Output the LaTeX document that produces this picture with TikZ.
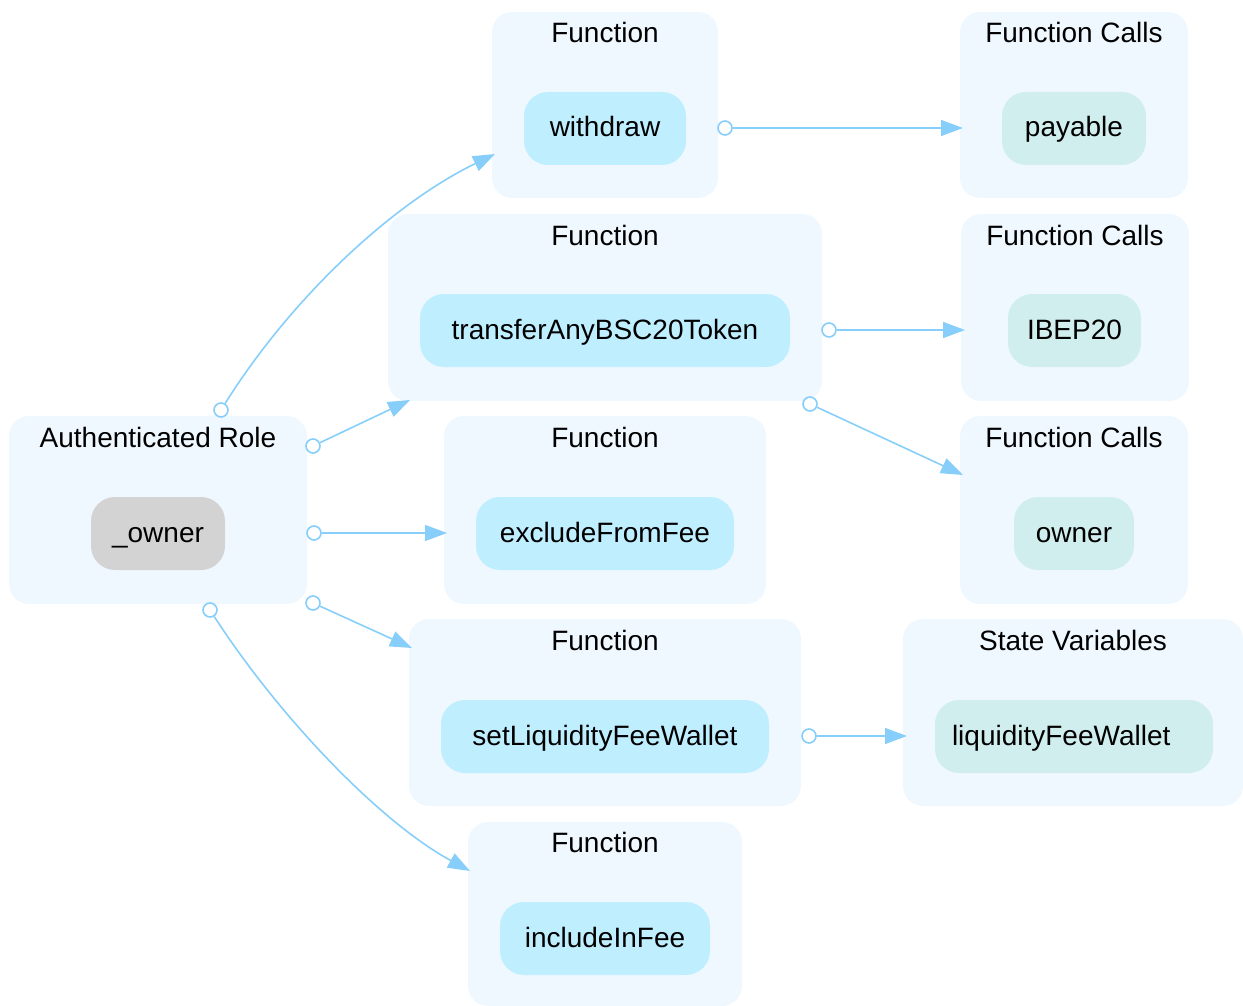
\documentclass[tikz,border=0pt]{standalone}
\usepackage{fontspec}
\setmainfont{Liberation Sans}
\usetikzlibrary{arrows.meta}
\definecolor{clfill}{HTML}{F0F8FF}
\definecolor{fnfill}{HTML}{BFEFFF}
\definecolor{callfill}{HTML}{D1EEEE}
\definecolor{ownfill}{HTML}{D3D3D3}
\definecolor{edgec}{HTML}{87CEFA}
\begin{document}
\begin{tikzpicture}[x=1pt,y=-1pt,
  every node/.style={font=\fontsize{28}{32}\selectfont},
  cluster/.style n args={2}{rectangle, fill=clfill, draw=none, rounded corners=20pt, inner sep=0pt, minimum width=#1, minimum height=#2},
  title/.style={anchor=base, inner sep=0pt},
  item/.style n args={2}{rectangle, fill=#1, draw=none, rounded corners=24pt, inner sep=0pt, minimum width=#2, minimum height=73pt, text height=20pt, text depth=3pt},
  tailc/.style={circle, draw=edgec, fill=white, line width=1.6pt, minimum size=14pt, inner sep=0pt},
  edge/.style={draw=edgec, line width=1.6pt, -{Triangle[length=22pt,width=16pt]}}
]
\useasboundingbox (0,0) rectangle (1243,1006);

% clusters
\node[cluster={298pt}{188pt}] (auth) at (158,510) {};
\node[title] (authT) at (158,447) {Authenticated Role};
\node[cluster={226pt}{186pt}] (wd) at (605,105) {};
\node[title] (wdT) at (605,43) {Function};
\node[cluster={434pt}{187pt}] (tr) at (605,307.5) {};
\node[title] (trT) at (605,245) {Function};
\node[cluster={322pt}{188pt}] (ex) at (605,510) {};
\node[title] (exT) at (605,447) {Function};
\node[cluster={392pt}{187pt}] (sl) at (605,712.5) {};
\node[title] (slT) at (605,650) {Function};
\node[cluster={274pt}{184pt}] (inc) at (605,914) {};
\node[title] (incT) at (605,852) {Function};
\node[cluster={228pt}{186pt}] (pay) at (1074,105) {};
\node[title] (payT) at (1074,43) {Function Calls};
\node[cluster={228pt}{187pt}] (ib) at (1075,307.5) {};
\node[title] (ibT) at (1075,245) {Function Calls};
\node[cluster={228pt}{188pt}] (ow) at (1074,510) {};
\node[title] (owT) at (1074,447) {Function Calls};
\node[cluster={340pt}{187pt}] (sv) at (1073,712.5) {};
\node[title] (svT) at (1073,650) {State Variables};

% items
\node[item={ownfill}{134pt}] (owner) at (158,533.5) {\_owner};
\node[item={fnfill}{162pt}] (withdraw) at (605,128.5) {withdraw};
\node[item={fnfill}{370pt}] (transfer) at (605,330.5) {transferAnyBSC20Token};
\node[item={fnfill}{258pt}] (exclude) at (605,533.5) {excludeFromFee};
\node[item={fnfill}{328pt}] (setliq) at (605,736.5) {setLiquidityFeeWallet};
\node[item={fnfill}{210pt}] (include) at (605,938.5) {includeInFee};
\node[item={callfill}{144pt}] (payable) at (1074,128.5) {payable};
\node[item={callfill}{133pt}] (ibep) at (1074.5,330.5) {IBEP20};
\node[item={callfill}{120pt}] (ownf) at (1074,533.5) {owner};
\node[rectangle, fill=callfill, rounded corners=24pt, inner xsep=17pt, inner ysep=0pt, text width=244pt, align=left, minimum height=73pt, text height=20pt, text depth=3pt] (liq) at (1074,736.5) {liquidityFeeWallet};

% edge heads
\coordinate (h1) at (495,154);
\coordinate (h2) at (410,400);
\coordinate (h3) at (447,533);
\coordinate (h4) at (412,648);
\coordinate (h5) at (470,871);
\coordinate (h6) at (963,128);
\coordinate (h7) at (965,330);
\coordinate (h8) at (963,475);
\coordinate (h9) at (907,736);

% edges
\draw[edge] (221,410) node[tailc] (t1) {} (t1) .. controls (290,300) and (390,205) .. (h1);
\draw[edge] (313,446) node[tailc] (t2) {} (t2) -- (h2);
\draw[edge] (314,533) node[tailc] (t3) {} (t3) -- (h3);
\draw[edge] (313,603) node[tailc] (t4) {} (t4) -- (h4);
\draw[edge] (210,610) node[tailc] (t5) {} (t5) .. controls (280,718) and (380,822) .. (h5);
\draw[edge] (725,128) node[tailc] (t6) {} (t6) -- (h6);
\draw[edge] (829,330) node[tailc] (t7) {} (t7) -- (h7);
\draw[edge] (810,404) node[tailc] (t8) {} (t8) -- (h8);
\draw[edge] (809,736) node[tailc] (t9) {} (t9) -- (h9);
\end{tikzpicture}
\end{document}
